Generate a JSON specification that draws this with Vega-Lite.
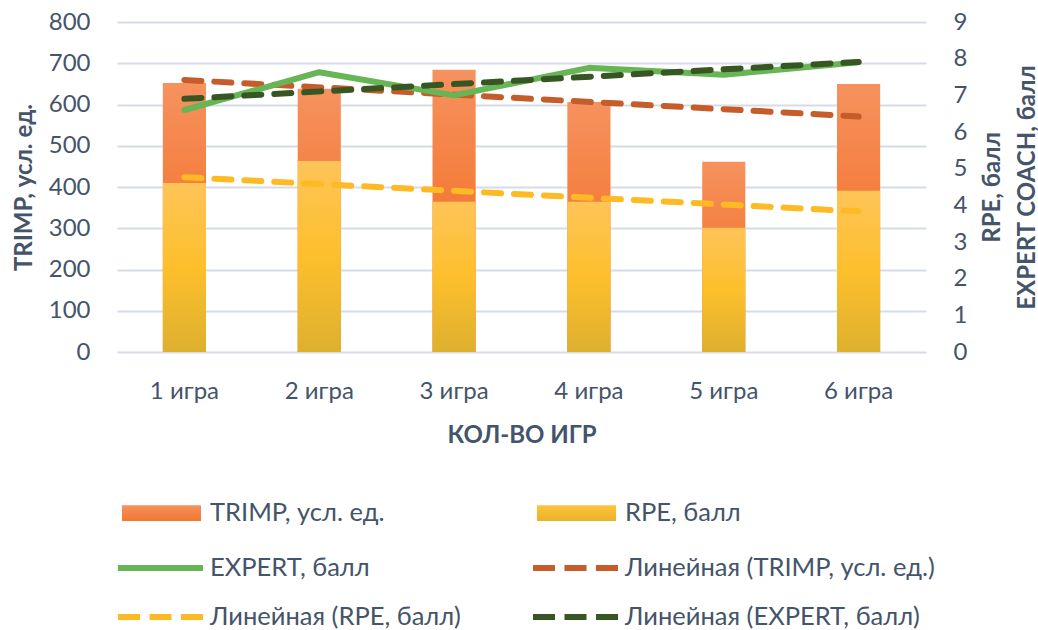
{
  "$schema": "https://vega.github.io/schema/vega-lite/v6.json",
  "width": 809,
  "height": 330,
  "autosize": {"type": "none"},
  "padding": {"left": 117, "top": 22, "right": 112, "bottom": 278},
  "background": "white",
  "datasets": {
    "games": [
      {"game": "1 игра", "n": 1, "TRIMP": 652, "RPE": 4.61, "EXPERT": 6.60},
      {"game": "2 игра", "n": 2, "TRIMP": 638, "RPE": 5.21, "EXPERT": 7.63},
      {"game": "3 игра", "n": 3, "TRIMP": 684, "RPE": 4.10, "EXPERT": 7.00},
      {"game": "4 игра", "n": 4, "TRIMP": 606, "RPE": 4.10, "EXPERT": 7.75},
      {"game": "5 игра", "n": 5, "TRIMP": 461, "RPE": 3.39, "EXPERT": 7.56},
      {"game": "6 игра", "n": 6, "TRIMP": 650, "RPE": 4.40, "EXPERT": 7.90}
    ]
  },
  "data": {"name": "games"},
  "encoding": {
    "x": {
      "field": "game",
      "type": "ordinal",
      "sort": null,
      "scale": {"paddingInner": 0.68, "paddingOuter": 0.34},
      "axis": {"title": "КОЛ-ВО ИГР", "labelAngle": 0, "labelPadding": 27, "titlePadding": 20, "grid": false}
    }
  },
  "layer": [
    {
      "layer": [
        {
          "mark": {
            "type": "bar",
            "strokeWidth": 0,
            "fill": {"gradient": "linear", "x1": 0, "y1": 0, "x2": 0, "y2": 1, "stops": [{"offset": 0, "color": "#F6925F"}, {"offset": 0.45, "color": "#F47C3A"}, {"offset": 1, "color": "#EE7430"}]}
          },
          "encoding": {
            "y": {
              "field": "TRIMP",
              "type": "quantitative",
              "scale": {"domain": [0, 800], "nice": false},
              "axis": {"title": "TRIMP, усл. ед.", "values": [0, 100, 200, 300, 400, 500, 600, 700, 800], "grid": true, "gridColor": "#D6DCE5", "gridWidth": 2, "labelPadding": 27, "titlePadding": 12, "labelOverlap": false}
            }
          }
        },
        {
          "transform": [
            {"regression": "TRIMP", "on": "n"},
            {"lookup": "n", "from": {"data": {"name": "games"}, "key": "n", "fields": ["game"]}}
          ],
          "mark": {"type": "line", "stroke": "#C55C2A", "strokeWidth": 6, "strokeDash": [17, 13], "strokeCap": "round"},
          "encoding": {
            "y": {"field": "TRIMP", "type": "quantitative"}
          }
        }
      ]
    },
    {
      "layer": [
        {
          "mark": {
            "type": "bar",
            "strokeWidth": 0,
            "fill": {"gradient": "linear", "x1": 0, "y1": 0, "x2": 0, "y2": 1, "stops": [{"offset": 0, "color": "#FEC458"}, {"offset": 0.5, "color": "#FDBF2C"}, {"offset": 1, "color": "#DEB02F"}]}
          },
          "encoding": {
            "y": {
              "field": "RPE",
              "type": "quantitative",
              "scale": {"domain": [0, 9], "nice": false},
              "axis": {"orient": "right", "title": ["RPE, балл", "EXPERT COACH, балл"], "titleAngle": 270, "titleBaseline": "top", "titleLineHeight": 35, "values": [0, 1, 2, 3, 4, 5, 6, 7, 8, 9], "tickCount": 10, "grid": false, "labelPadding": 27, "titlePadding": -21, "labelOverlap": false, "labelSeparation": 0}
            }
          }
        },
        {
          "mark": {"type": "line", "strokeWidth": 6, "strokeCap": "round", "strokeJoin": "round"},
          "encoding": {
            "y": {"field": "EXPERT", "type": "quantitative"},
            "stroke": {
              "datum": "EXPERT, балл",
              "type": "nominal",
              "scale": {
                "domain": ["TRIMP, усл. ед.", "RPE, балл", "EXPERT, балл", "Линейная (TRIMP, усл. ед.)", "Линейная (RPE, балл)", "Линейная (EXPERT, балл)"],
                "range": ["transparent", "transparent", "#67B555", "#C55C2A", "#FEBA24", "#375623"]
              },
              "legend": {
                "orient": "none",
                "legendX": 1,
                "legendY": 478,
                "direction": "horizontal",
                "columns": 2,
                "title": null,
                "padding": 0,
                "labelFont": "Lato",
                "labelFontSize": 25.5,
                "labelColor": "#44546A",
                "labelLimit": 600,
                "symbolSize": 400,
                "symbolStrokeWidth": 6,
                "symbolOpacity": 1,
                "symbolType": {"expr": "(datum.value === 'TRIMP, усл. ед.' || datum.value === 'RPE, балл') ? 'M-0.9,-0.78H7V0.78H-0.9Z' : 'M-1.3,0H7.2'"},
                "symbolFillColor": {"expr": "datum.value === 'TRIMP, усл. ед.' ? {gradient: 'linear', x1: 0, y1: 0, x2: 0, y2: 1, stops: [{offset: 0, color: '#F6925F'}, {offset: 1, color: '#F2772F'}]} : (datum.value === 'RPE, балл' ? {gradient: 'linear', x1: 0, y1: 0, x2: 0, y2: 1, stops: [{offset: 0, color: '#FEC43C'}, {offset: 1, color: '#E8B22A'}]} : 'transparent')"},
                "symbolDash": {"expr": "indexof(datum.value, 'Линейная') === 0 ? [22, 9.5] : []"},
                "labelOffset": 66,
                "columnPadding": 60,
                "rowPadding": 22
              }
            }
          }
        },
        {
          "transform": [
            {"regression": "RPE", "on": "n"},
            {"lookup": "n", "from": {"data": {"name": "games"}, "key": "n", "fields": ["game"]}}
          ],
          "mark": {"type": "line", "stroke": "#FEBA24", "strokeWidth": 6, "strokeDash": [17, 13], "strokeCap": "round"},
          "encoding": {
            "y": {"field": "RPE", "type": "quantitative"}
          }
        },
        {
          "transform": [
            {"regression": "EXPERT", "on": "n"},
            {"lookup": "n", "from": {"data": {"name": "games"}, "key": "n", "fields": ["game"]}}
          ],
          "mark": {"type": "line", "stroke": "#375623", "strokeWidth": 6, "strokeDash": [17, 13], "strokeCap": "round"},
          "encoding": {
            "y": {"field": "EXPERT", "type": "quantitative"}
          }
        }
      ]
    }
  ],
  "resolve": {"scale": {"y": "independent"}},
  "config": {
    "view": {"stroke": null},
    "font": "Lato",
    "line": {"strokeCap": "round"},
    "axis": {
      "labelFont": "Lato",
      "labelFontSize": 24,
      "labelColor": "#44546A",
      "titleFont": "Lato",
      "titleFontSize": 24,
      "titleFontWeight": "bold",
      "titleColor": "#44546A",
      "domain": false,
      "ticks": false,
      "tickSize": 0,
      "labelOverlap": false
    }
  }
}
